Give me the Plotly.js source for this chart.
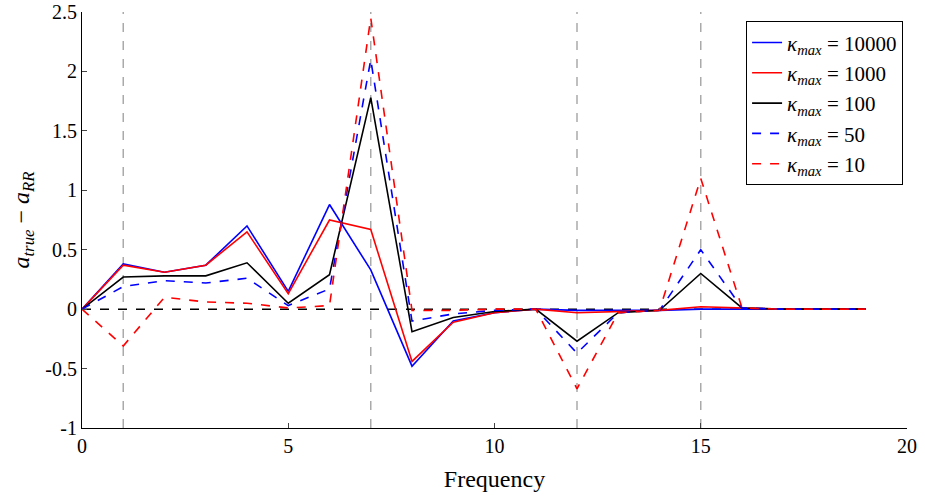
<!DOCTYPE html>
<html>
<head>
<script src="https://cdn.plot.ly/plotly-3.0.1.min.js"></script>
<style>body{margin:0}</style>
</head>
<body>
<div id="chart" style="width:925px;height:504px"></div>
<script>
const freq = [0,1,2,3,4,5,6,7,8,9,10,11,12,13,14,15,16,17,18,19]
const k10000 = [0,0.38,0.31,0.37,0.70,0.15,0.88,0.33,-0.48,-0.10,-0.03,0,-0.01,-0.01,-0.01,0,0,0,0,0]
const k1000 = [0,0.37,0.31,0.37,0.65,0.13,0.75,0.67,-0.44,-0.11,-0.03,0,-0.03,-0.02,-0.01,0.02,0.01,0,0,0]
const k100 = [0,0.27,0.28,0.28,0.39,0.05,0.29,1.78,-0.19,-0.07,-0.02,0,-0.27,-0.03,-0.01,0.30,0.01,0,0,0]
const k50 = [0,0.19,0.24,0.22,0.26,0.03,0.17,2.10,-0.10,-0.04,-0.01,0,-0.37,-0.03,-0.01,0.50,0.01,0,0,0]
const k10 = [0,-0.31,0.10,0.06,0.05,0.01,0.03,2.45,-0.01,-0.01,0,0,-0.67,-0.03,-0.01,1.10,0.01,0,0,0]
const markedFreqs = [1,7,12,15]

const lbl = v => `<i>κ<sub>max</sub></i> = ${v}`
const series = [
	[k10000, 'blue', 'solid', 10000],
	[k1000, 'red', 'solid', 1000],
	[k100, 'black', 'solid', 100],
	[k50, 'blue', 'dash', 50],
	[k10, 'red', 'dash', 10],
]

Plotly.newPlot('chart', series.map(([y, color, dash, k]) => ({
	x: freq, y, type: 'scatter', mode: 'lines', name: lbl(k),
	line: {color, dash, width: 1.6},
})), {
	width: 925, height: 504,
	margin: {l: 82, r: 18, t: 12, b: 76},
	font: {family: 'Liberation Serif, DejaVu Serif, serif', size: 20, color: 'black'},
	showlegend: true,
	legend: {x: 0.995, y: 0.978, xanchor: 'right', yanchor: 'top', bordercolor: 'black', borderwidth: 1.2, font: {size: 21}, bgcolor: 'white', tracegroupgap: 0},
	shapes: [
		...markedFreqs.map(f => ({type: 'line', x0: f, x1: f, y0: 0, y1: 1, yref: 'paper', layer: 'below', line: {color: '#aaa', width: 1.5, dash: 'dash'}})),
		{type: 'line', x0: 0, x1: 19, y0: 0, y1: 0, layer: 'below', line: {color: 'black', width: 1.5, dash: 'dash'}},
	],
	xaxis: {range: [0, 20], tickvals: [0,5,10,15,20], showgrid: false, zeroline: false, showline: true, linecolor: 'black', ticks: 'inside', ticklen: 5,
		title: {text: 'Frequency', font: {size: 24}, standoff: 14}},
	yaxis: {range: [-1, 2.5], tickvals: [-1,-0.5,0,0.5,1,1.5,2,2.5], ticktext: ['-1','-0.5','0','0.5','1','1.5','2','2.5'], showgrid: false, zeroline: false, showline: true, linecolor: 'black', ticks: 'inside', ticklen: 5,
		title: {text: '<i>a<sub>true</sub></i> − <i>a<sub>RR</sub></i>', font: {size: 24}, standoff: 8}},
}, {displayModeBar: false})
</script>
</body>
</html>
